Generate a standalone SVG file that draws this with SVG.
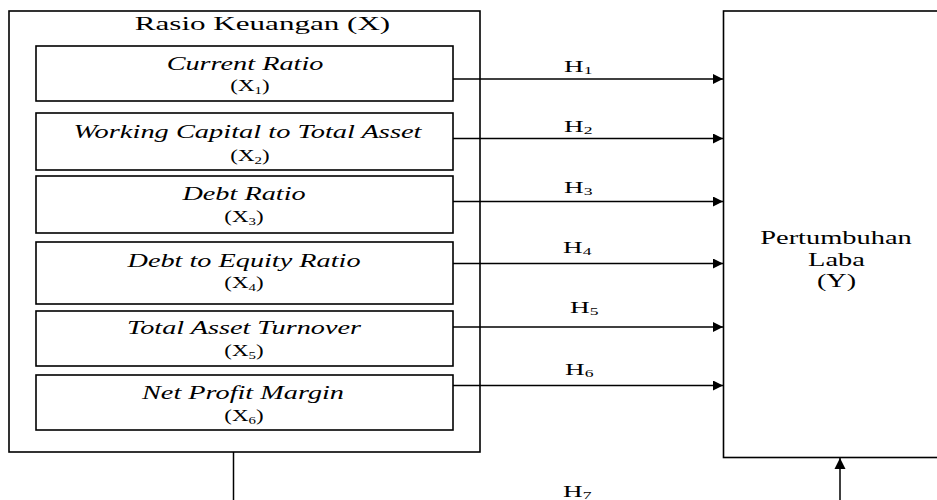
<svg xmlns="http://www.w3.org/2000/svg" width="937" height="500" viewBox="0 0 937 500">
<defs>
<style>
.box{fill:none;stroke:#000;stroke-width:1.6}
.line{fill:none;stroke:#000;stroke-width:1.5}
text{font-family:"Liberation Serif","Times New Roman",serif;font-size:18px;fill:#000;text-anchor:middle}
.it{font-style:italic}
.xl{font-size:17px}
.sub{font-size:11px}
.h{text-anchor:start;font-size:17px}
</style>
<marker id="ah" viewBox="0 0 10 10" refX="10" refY="5" markerWidth="15" markerHeight="10" markerUnits="userSpaceOnUse" orient="auto">
<path d="M0,0 L10,5 L0,10 z" fill="#000"/>
</marker>
<marker id="ahBig" viewBox="0 0 10 10" refX="10" refY="5" markerWidth="11" markerHeight="14" markerUnits="userSpaceOnUse" orient="auto">
<path d="M0,0 L10,5 L0,10 z" fill="#000"/>
</marker>
</defs>
<rect width="937" height="500" fill="#fff"/>

<g id="rasio-keuangan">
<rect class="box" x="9" y="11" width="471" height="441"/>
<text transform="translate(262.5,30) scale(1.68,1)" style="font-size:18.5px">Rasio Keuangan (X)</text>
</g>

<g id="x1">
<rect class="box" x="36" y="46" width="417" height="55"/>
<text class="it" transform="translate(245,70) scale(1.57,1)">Current Ratio</text>
<text class="xl" transform="translate(250,91) scale(1.35,1)">(X<tspan class="sub" dy="3">1</tspan><tspan dy="-3">)</tspan></text>
</g>

<g id="x2">
<rect class="box" x="36" y="113" width="417" height="57"/>
<text class="it" transform="translate(247.5,138) scale(1.58,1)">Working Capital to Total Asset</text>
<text class="xl" transform="translate(250,161) scale(1.35,1)">(X<tspan class="sub" dy="3">2</tspan><tspan dy="-3">)</tspan></text>
</g>

<g id="x3">
<rect class="box" x="36" y="176" width="417" height="57"/>
<text class="it" transform="translate(244,200) scale(1.57,1)">Debt Ratio</text>
<text class="xl" transform="translate(244,222) scale(1.35,1)">(X<tspan class="sub" dy="3">3</tspan><tspan dy="-3">)</tspan></text>
</g>

<g id="x4">
<rect class="box" x="36" y="242" width="417" height="62"/>
<text class="it" transform="translate(244,267) scale(1.57,1)">Debt to Equity Ratio</text>
<text class="xl" transform="translate(244,288) scale(1.35,1)">(X<tspan class="sub" dy="3">4</tspan><tspan dy="-3">)</tspan></text>
</g>

<g id="x5">
<rect class="box" x="36" y="311" width="417" height="55"/>
<text class="it" transform="translate(244,334) scale(1.57,1)">Total Asset Turnover</text>
<text class="xl" transform="translate(244,356) scale(1.35,1)">(X<tspan class="sub" dy="3">5</tspan><tspan dy="-3">)</tspan></text>
</g>

<g id="x6">
<rect class="box" x="36" y="375" width="417" height="55"/>
<text class="it" transform="translate(243,399) scale(1.57,1)">Net Profit Margin</text>
<text class="xl" transform="translate(244,421) scale(1.35,1)">(X<tspan class="sub" dy="3">6</tspan><tspan dy="-3">)</tspan></text>
</g>

<g id="pertumbuhan-laba">
<rect class="box" x="723.5" y="11" width="260" height="446.5"/>
<text transform="translate(836,244) scale(1.58,1)">Pertumbuhan</text>
<text transform="translate(836.5,266) scale(1.58,1)">Laba</text>
<text transform="translate(836.5,287) scale(1.56,1)">(Y)</text>
</g>

<g id="connectors">
<line class="line" x1="453" y1="79" x2="723" y2="79" marker-end="url(#ah)"/>
<line class="line" x1="453" y1="138.5" x2="723" y2="138.5" marker-end="url(#ah)"/>
<line class="line" x1="453" y1="201.5" x2="723" y2="201.5" marker-end="url(#ah)"/>
<line class="line" x1="453" y1="263.5" x2="723" y2="263.5" marker-end="url(#ah)"/>
<line class="line" x1="453" y1="327" x2="723" y2="327" marker-end="url(#ah)"/>
<line class="line" x1="453" y1="385.5" x2="723" y2="385.5" marker-end="url(#ah)"/>
<line class="line" x1="233.5" y1="452" x2="233.5" y2="500"/>
<line class="line" x1="840" y1="500" x2="840" y2="458" marker-end="url(#ahBig)"/>
<text class="h" transform="translate(564,72) scale(1.6,1)">H<tspan class="sub" dy="2">1</tspan></text>
<text class="h" transform="translate(564,132) scale(1.6,1)">H<tspan class="sub" dy="2">2</tspan></text>
<text class="h" transform="translate(564,193) scale(1.6,1)">H<tspan class="sub" dy="2">3</tspan></text>
<text class="h" transform="translate(563,253) scale(1.6,1)">H<tspan class="sub" dy="2">4</tspan></text>
<text class="h" transform="translate(570,313) scale(1.6,1)">H<tspan class="sub" dy="2">5</tspan></text>
<text class="h" transform="translate(565,375) scale(1.6,1)">H<tspan class="sub" dy="2">6</tspan></text>
<text class="h" transform="translate(563,497) scale(1.6,1)">H<tspan class="sub" dy="2">7</tspan></text>
</g>
</svg>
